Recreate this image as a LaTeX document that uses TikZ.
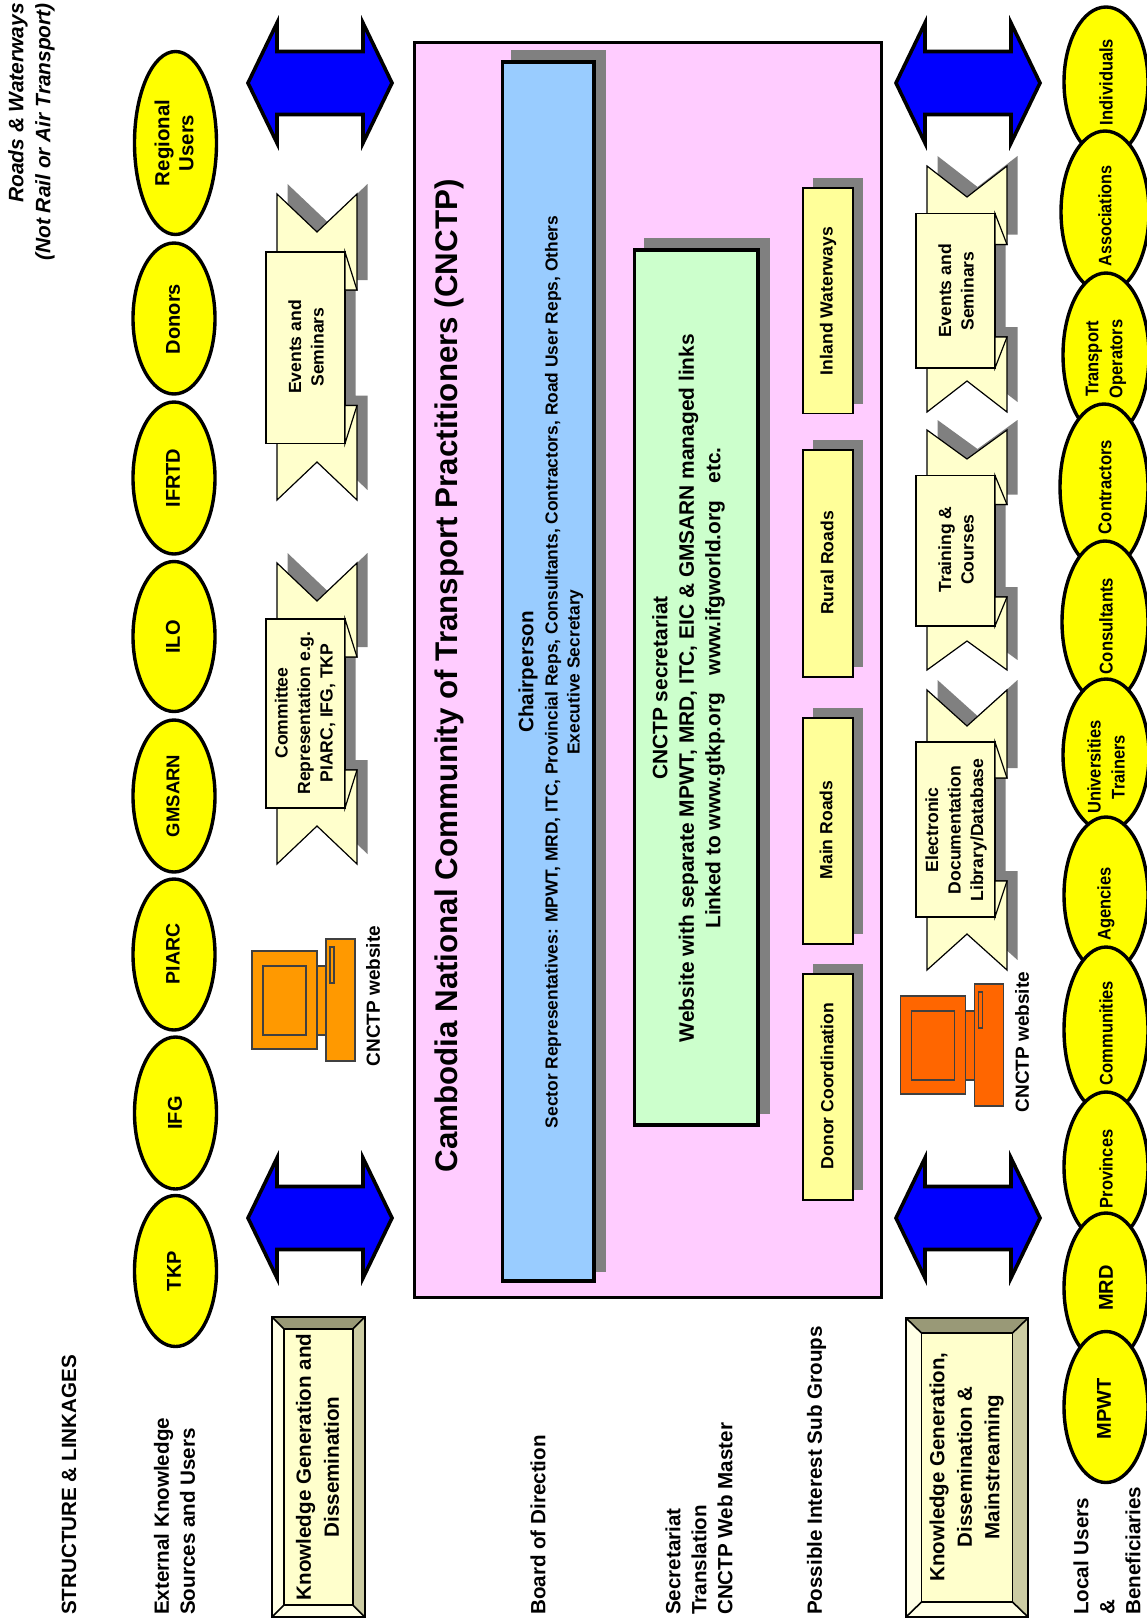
\documentclass[tikz,border=0pt]{standalone}
\usepackage{fontspec}
\setmainfont{Liberation Sans}
\usetikzlibrary{shapes.geometric}
\definecolor{pinkbg}{HTML}{FFCCFF}
\definecolor{bluebox}{HTML}{99CCFF}
\definecolor{greenbox}{HTML}{CCFFCC}
\definecolor{subbox}{HTML}{FFFF99}
\definecolor{cream}{HTML}{FFFFCC}
\definecolor{shade}{HTML}{808080}
\definecolor{oval}{HTML}{FFFF00}
\definecolor{arrowblue}{HTML}{0000FF}
\definecolor{pcleft}{HTML}{FF9900}
\definecolor{pcright}{HTML}{FF6600}
\definecolor{bevdark}{HTML}{999977}
\definecolor{bevmid}{HTML}{CCCCA3}
\definecolor{bevlight}{HTML}{FFFFE6}
\tikzset{
  lab/.style 2 args={rotate=90,align=center,inner sep=0pt,font=\bfseries\fontsize{#1}{#2}\selectfont},
  side/.style={rotate=90,align=left,anchor=west,inner sep=0pt,font=\bfseries\fontsize{20.6}{26}\selectfont},
  ovalshape/.style={ellipse,draw=black,line width=3.4pt,fill=oval,inner sep=0pt},
  ovaltext/.style={},
  shadowfill/.style={fill=shade,draw=none},
  subgroup/.style={draw=black,line width=1.5pt,fill=subbox},
  ribbonline/.style={draw=black,line width=1.2pt,fill=cream,line join=miter},
  pcpart/.style={draw=black!75,line width=1.4pt},
  bevelline/.style={draw=black,line width=1.6pt},
  bigarrow/.style={draw=black,line width=3.6pt,fill=arrowblue,miter limit=20}
}
% name, cx, cy, rx, ry, text x, text y, size, text
\newcommand{\myoval}[9]{%
  \node[ovalshape,minimum width=#4*2pt,minimum height=#5*2pt] (#1) at (#2,#3) {};
  \node[lab={#8}{24},ovaltext] (#1t) at (#6,#7) {#9};
}
% cx, cy
\newcommand{\dblarrow}[2]{%
  \draw[bigarrow] (#1-72,#2) -- (#1-43,#2-60) -- (#1-43,#2-31.5) -- (#1+43,#2-31.5) -- (#1+43,#2-60)
     -- (#1+72,#2) -- (#1+43,#2+60) -- (#1+43,#2+31.5) -- (#1-43,#2+31.5) -- (#1-43,#2+60) -- cycle;
}
% depth of notch and fold, then: xL, tip top, panel top, panel bottom, tip bottom
\newcommand{\ribbon}[6]{%
  \fill[shadowfill] (#2+10.5,#3-10) -- (#2+50.5,#3+#1-10) -- (#2+90.5,#3-10) -- (#2+90.5,#4+#1-10) -- (#2+78.5,#4+#1-10)
     -- (#2+78.5,#5-#1-10) -- (#2+90.5,#5-#1-10) -- (#2+90.5,#6-10) -- (#2+50.5,#6-#1-10) -- (#2+10.5,#6-10) -- cycle;
  \draw[ribbonline] (#2,#3) -- (#2+40,#3+#1) -- (#2+80,#3) -- (#2+80,#4+#1) -- (#2+68,#4+#1)
     -- (#2+68,#5-#1) -- (#2+80,#5-#1) -- (#2+80,#6) -- (#2+40,#6-#1) -- (#2,#6) -- cycle;
  \draw[ribbonline] (#2-11,#4) rectangle (#2+68,#5);
  \draw[ribbonline] (#2+68,#4) -- (#2+80,#4+#1) -- (#2+68,#4+#1) -- cycle;
  \draw[ribbonline] (#2+68,#5) -- (#2+80,#5-#1) -- (#2+68,#5-#1) -- cycle;
}
% colour, monitor x, monitor y (top)
\newcommand{\computer}[3]{%
  \draw[pcpart,fill=#1] (#2,#3) rectangle (#2+65,#3+98);
  \draw[pcpart,fill=#1] (#2+11,#3+15) rectangle (#2+54,#3+84);
  \draw[pcpart,fill=#1] (#2+65,#3+15) rectangle (#2+74,#3+84);
  \draw[pcpart,fill=#1] (#2+74,#3-12) rectangle (#2+103,#3+110);
  \draw[pcpart,fill=#1] (#2+78,#3-4) rectangle (#2+82,#3+32);
}
% x1,y1,x2,y2,inset x,inset y
\newcommand{\bevel}[6]{%
  \fill[bevdark] (#1,#2) -- (#3,#2) -- (#3-#5,#2+#6) -- (#1+#5,#2+#6) -- cycle;
  \fill[bevmid] (#3,#2) -- (#3,#4) -- (#3-#5,#4-#6) -- (#3-#5,#2+#6) -- cycle;
  \fill[bevlight] (#3,#4) -- (#1,#4) -- (#1+#5,#4-#6) -- (#3-#5,#4-#6) -- cycle;
  \fill[bevlight] (#1,#4) -- (#1,#2) -- (#1+#5,#2+#6) -- (#1+#5,#4-#6) -- cycle;
  \draw[bevelline,fill=cream] (#1+#5,#2+#6) rectangle (#3-#5,#4-#6);
  \draw[bevelline] (#1,#2) rectangle (#3,#4);
  \draw[bevelline] (#1,#2) -- (#1+#5,#2+#6) (#3,#2) -- (#3-#5,#2+#6) (#3,#4) -- (#3-#5,#4-#6) (#1,#4) -- (#1+#5,#4-#6);
}
\begin{document}
\begin{tikzpicture}[x=1pt,y=-1pt]
\useasboundingbox (0,0) rectangle (1147,1624);
\clip (0,0) rectangle (1147,1624);
\fill[white] (0,0) rectangle (1147,1624);

% corner and row labels
\node[lab={20.9}{27},font=\bfseries\itshape\fontsize{20.9}{27}\selectfont,align=right,anchor=east] (scope) at (31.5,3) {Roads \& Waterways\\(Not Rail or Air Transport)};
\node[side] (structure) at (69,1615) {STRUCTURE \& LINKAGES};
\node[side] (external) at (174.5,1615) {External Knowledge\\Sources and Users};
\node[side] (board) at (538,1615) {Board of Direction};
\node[side] (secretariat) at (699,1615) {Secretariat\\Translation\\CNCTP Web Master};
\node[side] (possible) at (816.5,1615) {Possible Interest Sub Groups};
\node[side] (local) at (1107,1615) {Local Users\\\&\\Beneficiaries};

% left ovals
\myoval{regional}{175.5}{143}{41}{91.5}{174}{143}{20.4}{Regional\\Users}
\myoval{donors}{174}{318.5}{41}{75.5}{173}{319}{20}{Donors}
\myoval{ifrtd}{174}{478}{41}{76}{173}{478}{20}{IFRTD}
\myoval{ilo}{174}{636.5}{41}{75}{173}{637}{20}{ILO}
\myoval{gmsarn}{174}{796}{41}{76}{173}{796}{18.5}{GMSARN}
\myoval{piarc}{174}{954.5}{41}{75.5}{173}{954}{19.5}{PIARC}
\myoval{ifg}{175.5}{1113}{41}{76}{175}{1113}{20}{IFG}
\myoval{tkp}{175.5}{1271}{41}{75.5}{174}{1271}{20}{TKP}

% blue arrows
\dblarrow{320}{83}
\dblarrow{320}{1218}
\dblarrow{968}{83}
\dblarrow{968}{1218}

% left column
\ribbon{38}{277}{194}{252}{443.5}{500}
\node[lab={17.6}{22.5}] (evleft) at (306,347) {Events and\\Seminars};
\ribbon{38}{277}{563}{619}{808}{864}
\node[lab={17.6}{22.5}] (comm) at (305,713) {Committee\\Representation e.g.\\PIARC, IFG, TKP};
\computer{pcleft}{252}{951}
\node[lab={19}{24}] (webl) at (373,996) {CNCTP website};
\bevel{272}{1317}{364.7}{1617}{12}{12}
\node[lab={20.6}{28}] (kgd) at (317.5,1467) {Knowledge Generation and\\Dissemination};

% main panel
\draw[draw=black,line width=3pt,fill=pinkbg] (414.5,43) rectangle (881.5,1297);
\node[lab={31.3}{36}] (title) at (449,676) {Cambodia National Community of Transport Practitioners (CNCTP)};
\fill[shadowfill] (511,50) rectangle (606,1272);
\draw[draw=black,line width=3.6pt,fill=bluebox] (502.5,62) rectangle (594,1281);
\node[lab={20.6}{24}] (chair) at (528,672) {Chairperson};
\node[lab={17.4}{22}] (sector) at (564,672) {Sector Representatives: MPWT, MRD, ITC, Provincial Reps, Consultants, Contractors, Road User Reps, Others\\Executive Secretary};
\fill[shadowfill] (644,238) rectangle (770,1114);
\draw[draw=black,line width=3.6pt,fill=greenbox] (634.5,250) rectangle (758,1125);
\node[lab={20.9}{26.5}] (green) at (688.5,688) {CNCTP secretariat\\Website with separate MPWT, MRD, ITC, EIC \& GMSARN managed links\\Linked to www.gtkp.org\ \ \ www.ifgworld.org\ \ \ etc.};

\fill[shadowfill] (813,178) rectangle (863,403.5);
\draw[subgroup] (803,188) rectangle (853,413.5);
\node[lab={17.6}{20}] (inland) at (828,301) {Inland Waterways};
\fill[shadowfill] (813,440) rectangle (863,667);
\draw[subgroup] (803,450) rectangle (853,677);
\node[lab={17.6}{20}] (rural) at (827,563) {Rural Roads};
\fill[shadowfill] (813,708) rectangle (863,934);
\draw[subgroup] (803,718) rectangle (853,944);
\node[lab={17.6}{20}] (mainr) at (826,830) {Main Roads};
\fill[shadowfill] (813,964) rectangle (863,1190);
\draw[subgroup] (803,974) rectangle (853,1200);
\node[lab={17.6}{20}] (donorc) at (827,1086) {Donor Coordination};

% right column
\ribbon{31}{927}{166}{213.5}{368}{412}
\node[lab={17.6}{22.5}] (evright) at (956,291) {Events and\\Seminars};
\ribbon{29}{927}{430}{475.5}{626}{670}
\node[lab={17.6}{22.5}] (train) at (956,549.5) {Training \&\\Courses};
\ribbon{36}{927}{690}{742}{917}{970}
\node[lab={17.6}{22.5}] (elec) at (956,830) {Electronic\\Documentation\\Library/Database};
\computer{pcright}{900.7}{996}
\node[lab={19}{24}] (webr) at (1022,1042) {CNCTP website};
\bevel{906}{1318}{1028}{1617}{15.5}{15}
\node[lab={20.5}{27.5}] (kgdm) at (966.5,1467) {Knowledge Generation,\\Dissemination \&\\Mainstreaming};

% right ovals (each overlaps the one above it)
\tikzset{ovaltext/.style={xscale=0.9}}
\myoval{indiv}{1106}{82}{42}{75}{1106}{82}{18.3}{Individuals}
\myoval{assoc}{1105}{212}{44}{81}{1105}{216}{18}{Associations}
\myoval{trans}{1106}{355}{43}{82}{1106}{359}{18.3}{Transport\\Operators}
\myoval{contr}{1104}{487}{44}{83}{1105}{487}{18.5}{Contractors}
\myoval{consu}{1105}{622}{43}{81}{1106}{626}{18.5}{Consultants}
\myoval{univ}{1106}{755}{43}{76}{1106}{767}{18.3}{Universities\\Trainers}
\myoval{agen}{1106}{895}{42}{78}{1106}{904}{18.3}{Agencies}
\myoval{commu}{1106}{1030}{42}{83}{1106}{1033}{18.3}{Communities}
\myoval{prov}{1106}{1167}{42}{75}{1106}{1169}{18.3}{Provinces}
\tikzset{ovaltext/.style={}}
\myoval{mrd}{1106}{1288}{42}{75}{1106}{1288}{20}{MRD}
\myoval{mpwt}{1106}{1407}{42}{75.5}{1104}{1409}{20}{MPWT}
\end{tikzpicture}
\end{document}
